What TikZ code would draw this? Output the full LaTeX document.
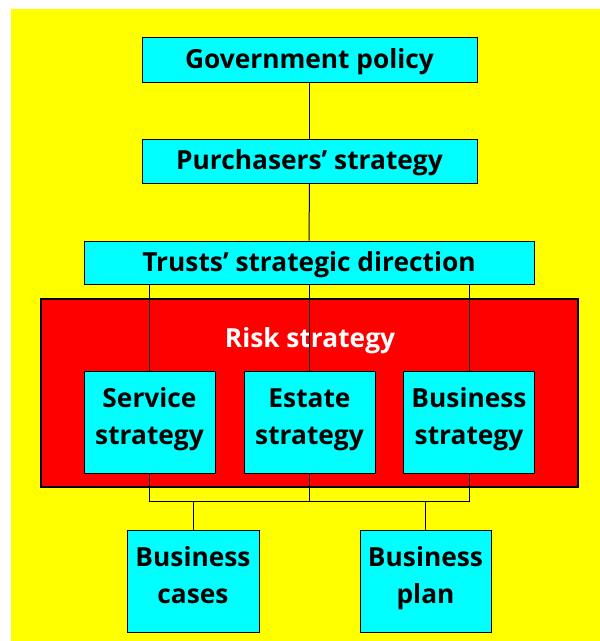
\documentclass[tikz,border=0pt]{standalone}
\usepackage{fontspec}
\setmainfont{Open Sans}
\definecolor{bgyel}{RGB}{255,255,0}
\definecolor{boxcyan}{RGB}{0,255,255}
\definecolor{riskred}{RGB}{255,0,0}
\newcommand{\ls}{\rule[-14pt]{0pt}{35pt}}
\begin{document}
\begin{tikzpicture}[x=1pt,y=-1pt,
  boxfont/.style={font=\fontsize{26.3}{37}\selectfont\bfseries},
  box/.style={draw=black,line width=1pt,fill=boxcyan,inner sep=0pt,boxfont,align=center},
  onebox/.style={box,text height=20pt,text depth=3pt},
  twobox/.style={box,minimum width=131pt,minimum height=102pt},
  link/.style={draw=black,line width=1pt}]
\useasboundingbox (0,0) rectangle (600,641);
\fill[bgyel] (11,9) rectangle (600,641);
% red risk frame
\node[draw=black,line width=1.2pt,fill=riskred,minimum width=537pt,minimum height=188pt,inner sep=0pt] (risk) at (309.5,393) {};
\node[text=white,boxfont,anchor=base] (risklabel) at (310,347) {Risk strategy};
% top boxes
\node[onebox,minimum width=335pt,minimum height=45pt] (gov) at (309.5,59.5) {Government policy};
\node[onebox,minimum width=335pt,minimum height=44pt] (purch) at (309.5,161) {Purchasers’ strategy};
\node[onebox,minimum width=450pt,minimum height=43pt] (trusts) at (309,262.5) {Trusts’ strategic direction};
% strategy boxes
\node[twobox] (serv) at (149.5,422) {\ls Service\\\ls strategy};
\node[twobox] (est) at (309.5,422) {\ls Estate\\\ls strategy};
\node[twobox] (bstrat) at (469,422) {\ls Business\\\ls strategy};
% bottom boxes
\node[twobox,minimum width=132pt] (cases) at (193,581) {\ls Business\\\ls cases};
\node[twobox] (plan) at (425.5,581) {\ls Business\\\ls plan};
\coordinate (bar) at (309.5,501);
% connectors
\draw[link] (gov.south) -- (purch.north);
\draw[link] (purch.south) -- (trusts.north);
\draw[link] (trusts.south -| serv.north) -- (serv.north);
\draw[link] (trusts.south -| est.north) -- (est.north);
\draw[link] (trusts.south -| bstrat.north) -- (bstrat.north);
\draw[link] (serv.south) -- (serv.south |- bar) -- (bstrat.south |- bar) -- (bstrat.south);
\draw[link] (est.south) -- (est.south |- bar);
\draw[link] (cases.north |- bar) -- (cases.north);
\draw[link] (plan.north |- bar) -- (plan.north);
\end{tikzpicture}
\end{document}
